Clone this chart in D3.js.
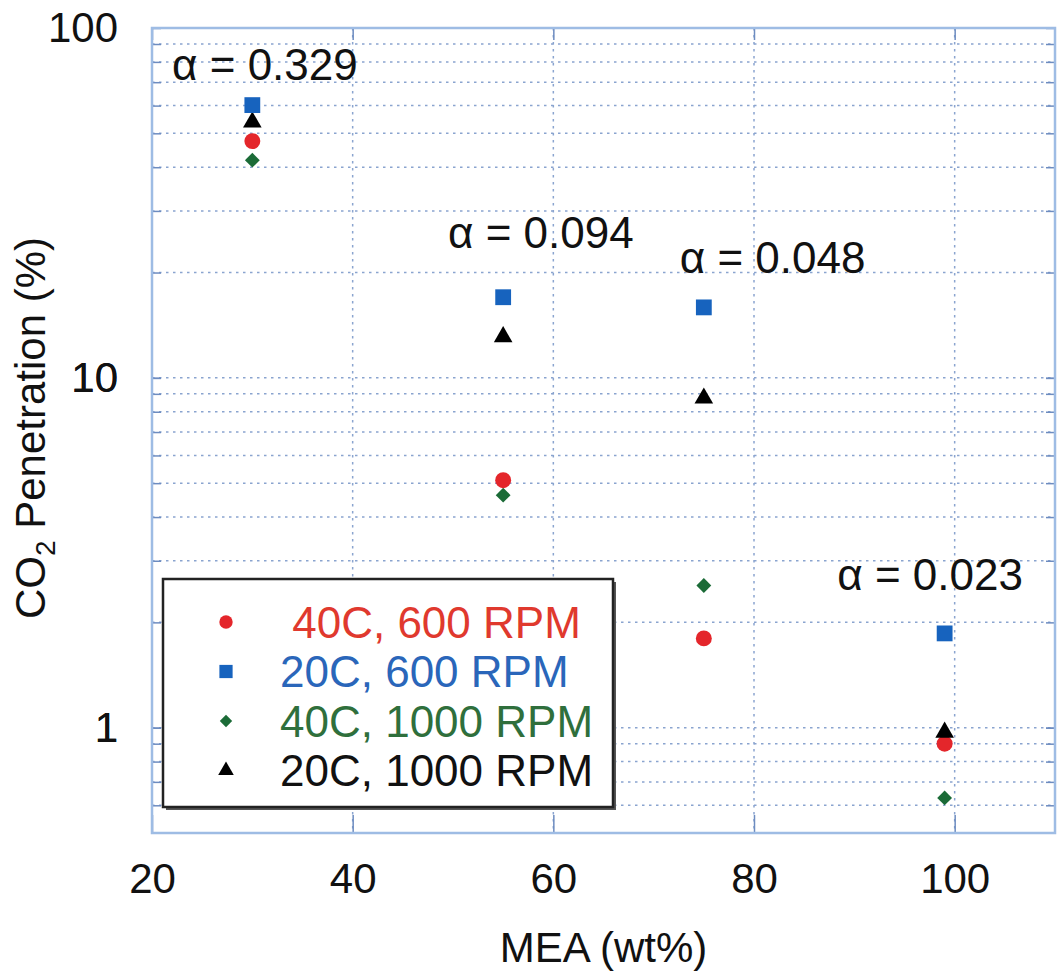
<!DOCTYPE html>
<html><head><meta charset="utf-8">
<script src="https://cdn.jsdelivr.net/npm/d3@7"></script>
<style>
body{margin:0;background:#fff;}
svg text{font-family:"Liberation Sans",Arial,sans-serif;}
</style></head>
<body><svg id="c" width="1057" height="974"></svg>
<script>
// ---- data ----
const mea = [30, 55, 75, 99];
const series = [
  {name: " 40C, 600 RPM", symbol: "circle", color: "#e4262b", text: "#e0392e"},
  {name: "20C, 600 RPM", symbol: "square", color: "#1763be", text: "#2a66ba"},
  {name: "40C, 1000 RPM", symbol: "diamond", color: "#1b6b37", text: "#2f6f3c"},
  {name: "20C, 1000 RPM", symbol: "triangle", color: "#000000", text: "#111111"}
];
const red40_600 = [47.5, 5.1, 1.80, 0.90];
const blue20_600 = [60.2, 17.0, 15.9, 1.86];
const green40_1000 = [41.9, 4.62, 2.55, 0.63];
const black20_1000 = [53.8, 13.1, 8.75, 0.97];
const values = [red40_600, blue20_600, green40_1000, black20_1000];
const xTicks = [20, 40, 60, 80, 100];
const yTickLabels = [1, 10, 100];
const alphaLabels = ["α = 0.329", "α = 0.094", "α = 0.048", "α = 0.023"];
const alphaX = [22, 49.5, 72.6, 88.3];
const alphaY = [71, 23.5, 20.0, 2.47];

// ---- layout ----
const L = 152, R = 1055, T = 28, B = 833;
const svg = d3.select("#c");
const x = d3.scaleLinear().domain([20, 110]).range([L, R]);
const y = d3.scaleLog().domain([0.5, 100]).range([B, T]);

const gridColor = "#8aa4cf";
// minor horizontal grid lines
const yGrid = [];
[0.1, 1, 10].forEach(d => { for (let k = 1; k <= 9; k++) { const v = d * k; if (v > 0.5 && v < 100) yGrid.push(v); } });
svg.append("g").selectAll("line").data(yGrid).join("line")
  .attr("x1", L).attr("x2", R).attr("y1", d => y(d)).attr("y2", d => y(d))
  .attr("stroke", gridColor).attr("stroke-width", 1.5).attr("stroke-dasharray", "2.5,4.5");
svg.append("g").selectAll("line").data(xTicks.filter(d => d > 20)).join("line")
  .attr("y1", T).attr("y2", B).attr("x1", d => x(d)).attr("x2", d => x(d))
  .attr("stroke", gridColor).attr("stroke-width", 1.5).attr("stroke-dasharray", "2.5,4.5");

// axes (ticks inward)
const axB = svg.append("g").attr("transform", `translate(0,${B})`)
  .call(d3.axisBottom(x).tickValues(xTicks).tickSize(-18).tickPadding(30).tickFormat(d3.format("d")));
const axT = svg.append("g").attr("transform", `translate(0,${T})`)
  .call(d3.axisTop(x).tickValues(xTicks).tickSize(-12).tickFormat(""));
const axL = svg.append("g").attr("transform", `translate(${L},0)`)
  .call(d3.axisLeft(y).tickValues(yGrid.concat(yTickLabels)).tickSize(-9).tickPadding(34)
    .tickFormat(d => yTickLabels.includes(d) ? d3.format("d")(d) : ""));
const axR = svg.append("g").attr("transform", `translate(${R},0)`)
  .call(d3.axisRight(y).tickValues(yGrid.concat(yTickLabels)).tickSize(-9).tickFormat(""));
[axB, axT, axL, axR].forEach(a => {
  a.select(".domain").remove();
  a.selectAll(".tick line").attr("stroke", "#6d8cc0").attr("stroke-width", 1.5);
  a.selectAll("text").attr("font-size", 42).attr("fill", "#111");
});
axB.selectAll("text").attr("dy", "0.71em");

// frame
svg.append("rect").attr("x", L).attr("y", T).attr("width", R - L).attr("height", B - T)
  .attr("fill", "none").attr("stroke", "#9ebce4").attr("stroke-width", 2.5);

// symbols
const symMap = {circle: d3.symbolCircle, square: d3.symbolSquare, diamond: d3.symbolSquare, triangle: d3.symbolTriangle};
const symSize = {circle: 200, square: 250, diamond: 110, triangle: 150};
const symRot = {circle: 0, square: 0, diamond: 45, triangle: 0};
// draw in order: green, red, black, blue (overlaps as in reference)
const order = [2, 0, 3, 1];
order.forEach(i => {
  const s = series[i];
  svg.append("g").selectAll("path").data(values[i]).join("path")
    .attr("transform", (v, j) => `translate(${x(mea[j])},${y(v)}) rotate(${symRot[s.symbol]})`)
    .attr("d", d3.symbol().type(symMap[s.symbol]).size(symSize[s.symbol])())
    .attr("fill", s.color);
});

// alpha annotations
svg.append("g").selectAll("text").data(alphaLabels).join("text")
  .attr("x", (d, i) => x(alphaX[i])).attr("y", (d, i) => y(alphaY[i]))
  .attr("font-size", 44).attr("fill", "#111").text(d => d);

// axis titles
svg.append("text").attr("x", x(65)).attr("y", 962).attr("text-anchor", "middle")
  .attr("font-size", 42).attr("fill", "#111").text("MEA (wt%)");
const yt = svg.append("text").attr("transform", `translate(45,${428}) rotate(-90)`)
  .attr("text-anchor", "middle").attr("font-size", 42).attr("fill", "#111");
yt.append("tspan").text("CO");
yt.append("tspan").attr("font-size", 28).attr("dy", 10).text("2");
yt.append("tspan").attr("dy", -10).text(" Penetration (%)");

// legend
const lg = svg.append("g");
lg.append("rect").attr("x", 166).attr("y", 582).attr("width", 450).attr("height", 228)
  .attr("fill", "#555");
lg.append("rect").attr("x", 163).attr("y", 579).attr("width", 450).attr("height", 228)
  .attr("fill", "#fff").attr("stroke", "#222").attr("stroke-width", 2.5);
series.forEach((s, i) => {
  const cy = 622 + i * 49.5;
  lg.append("path").attr("transform", `translate(226,${cy}) rotate(${symRot[s.symbol]})`)
    .attr("d", d3.symbol().type(symMap[s.symbol]).size(symSize[s.symbol] * 0.7)())
    .attr("fill", s.color);
  lg.append("text").attr("x", 280).attr("y", cy).attr("dy", "0.36em")
    .attr("font-size", 44).attr("fill", s.text).attr("xml:space", "preserve")
    .style("white-space", "pre").text(s.name);
});
</script></body></html>
